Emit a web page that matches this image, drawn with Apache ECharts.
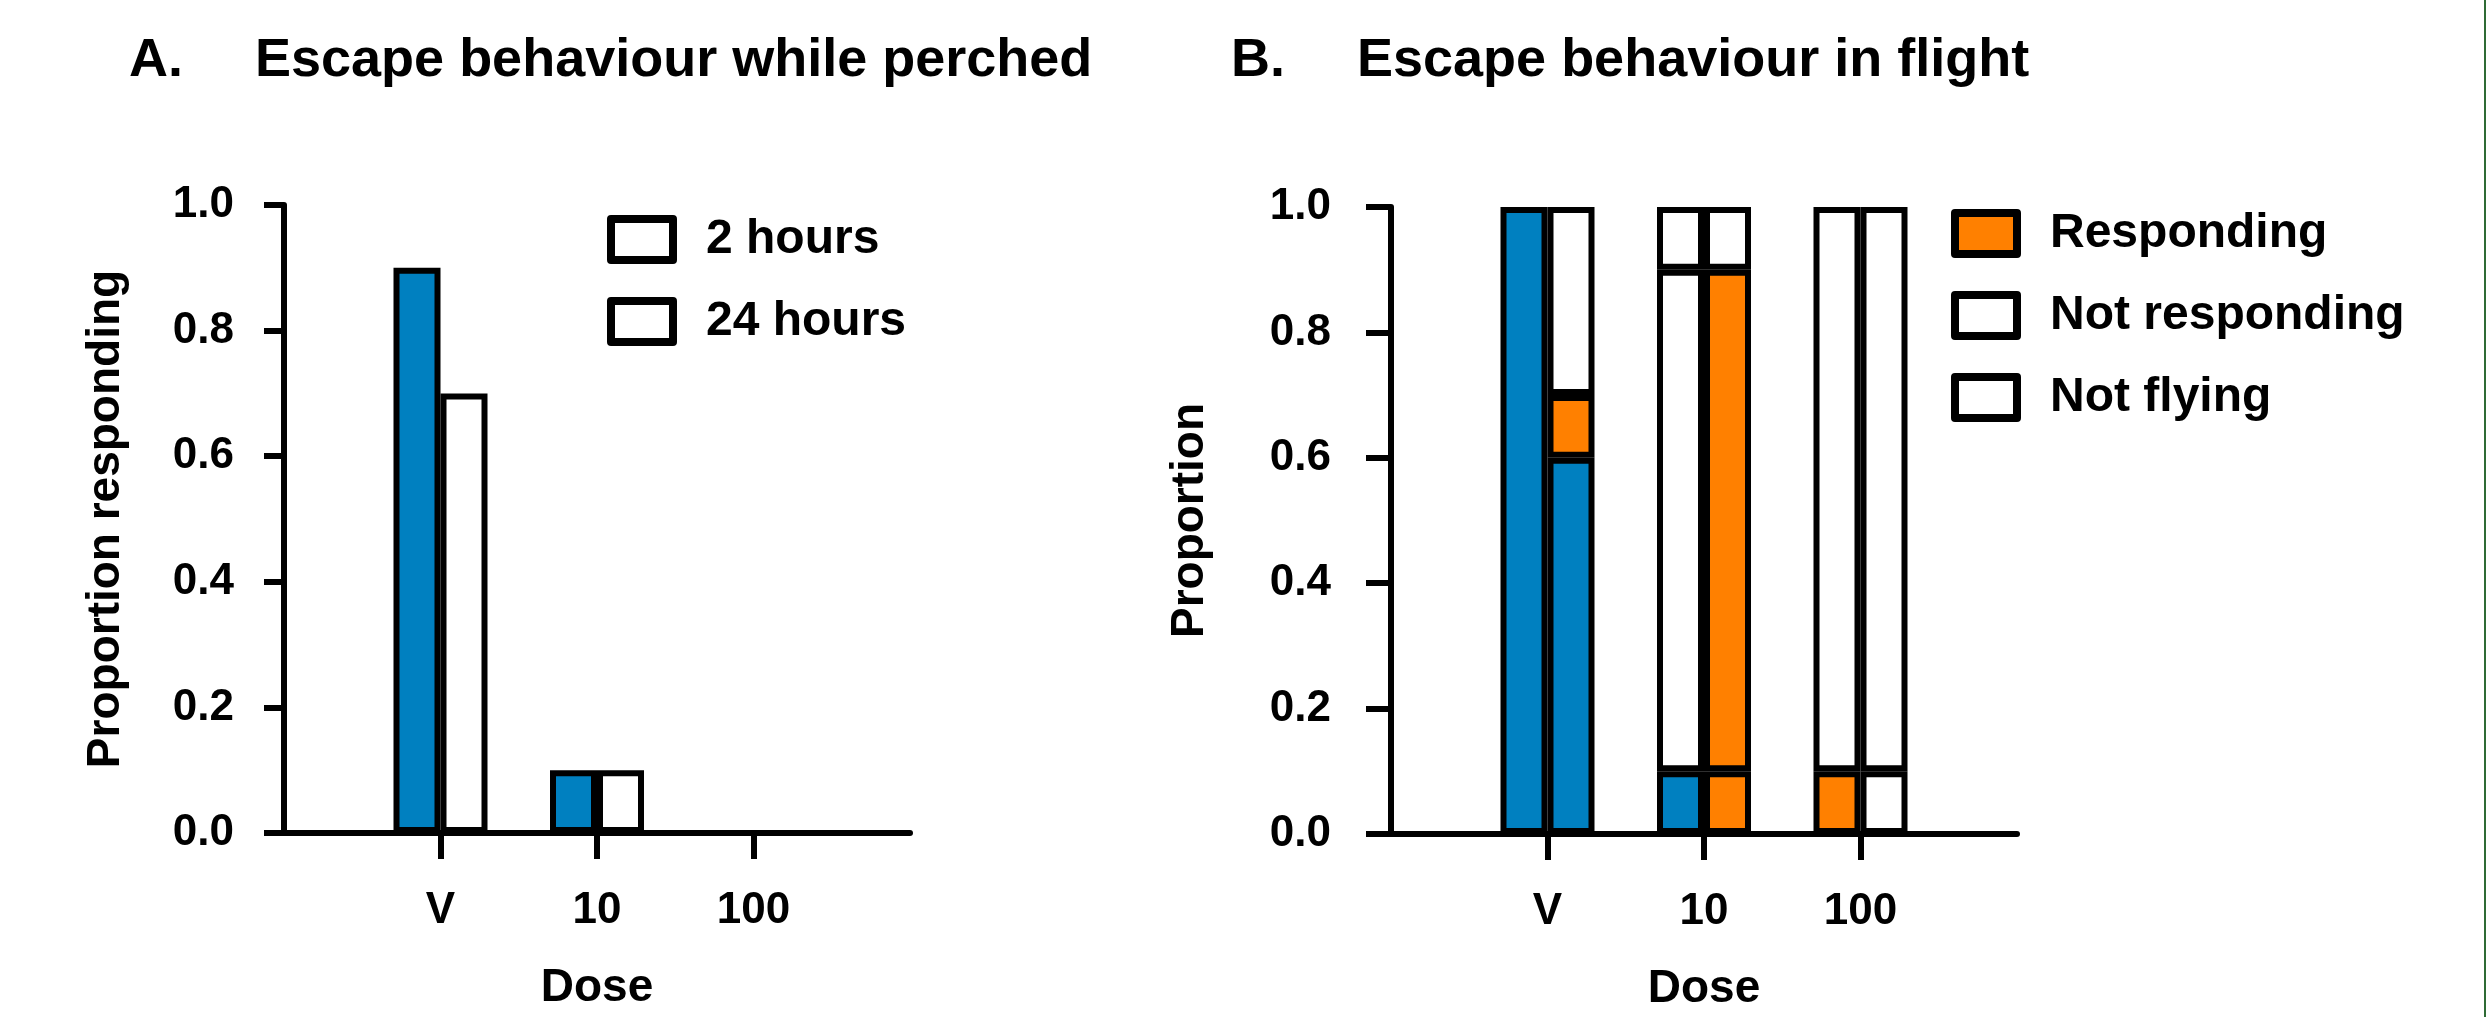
<!DOCTYPE html>
<html>
<head>
<meta charset="utf-8">
<script src="https://cdn.jsdelivr.net/npm/echarts@6/dist/echarts.min.js"></script>
<style>
html,body{margin:0;padding:0;background:#fff;}
#chart{width:2486px;height:1017px;}
</style>
</head>
<body>
<div id="chart"></div>
<script>
// ---- data ----
const categories = ['', 'V', '10', '100', ''];
const yTickValues = [0, 0.2, 0.4, 0.6, 0.8, 1.0];

// Panel A: proportion responding while perched
const hours2  = ['-', 0.9, 0.1, 0, '-'];
const hours24 = ['-', 0.7, 0.1, 0, '-'];

// Panel B: escape behaviour in flight (segments of left and right bars)
const leftBottom  = ['-', 1.0, 0.1, 0.1, '-'];
const leftMiddle  = ['-', '-', 0.8, 0.9, '-'];
const leftTop     = ['-', '-', 0.1, '-', '-'];
const rightBottom = ['-', 0.6, 0.1, 0.1, '-'];
const rightMiddle = ['-', 0.1, 0.8, 0.9, '-'];
const rightTop    = ['-', 0.3, 0.1, '-', '-'];

// ---- styles ----
const BLUE = '#0080C0', ORANGE = '#FF8000', WHITE = '#FFFFFF';
const hours2Fill      = [BLUE, BLUE, BLUE, BLUE, BLUE];
const hours24Fill     = [WHITE, WHITE, WHITE, WHITE, WHITE];
const leftBottomFill  = [WHITE, BLUE, BLUE, ORANGE, WHITE];
const leftMiddleFill  = [WHITE, WHITE, WHITE, WHITE, WHITE];
const leftTopFill     = [WHITE, WHITE, WHITE, WHITE, WHITE];
const rightBottomFill = [WHITE, BLUE, ORANGE, WHITE, WHITE];
const rightMiddleFill = [WHITE, ORANGE, ORANGE, WHITE, WHITE];
const rightTopFill    = [WHITE, WHITE, WHITE, WHITE, WHITE];

const FONT = "'Liberation Sans', Arial, sans-serif";
const BW = 6;
const BAR_W = 47;

function items(vals, fills) {
  return vals.map((v, i) => ({ value: v, itemStyle: { color: fills[i] } }));
}

function xAxisFor(gridIndex) {
  return {
    gridIndex: gridIndex,
    type: 'category',
    data: categories,
    boundaryGap: false,
    name: 'Dose',
    nameLocation: 'middle',
    nameGap: 132,
    nameTextStyle: { fontFamily: FONT, fontWeight: 'bold', fontSize: 46, color: '#000' },
    axisLine: { show: true, lineStyle: { color: '#000', width: BW } },
    axisTick: { show: true, length: 26, lineStyle: { color: '#000', width: BW },
                interval: function (i, v) { return v !== ''; } },
    axisLabel: { interval: 0, margin: 56, fontFamily: FONT, fontWeight: 'bold', fontSize: 44, color: '#000' },
    splitLine: { show: false }
  };
}
function yAxisFor(gridIndex, name, nameGap, margin, tickLen) {
  return {
    gridIndex: gridIndex,
    type: 'value',
    min: yTickValues[0],
    max: yTickValues[yTickValues.length - 1],
    interval: 0.2,
    name: name,
    nameLocation: 'middle',
    nameGap: nameGap,
    nameTextStyle: { fontFamily: FONT, fontWeight: 'bold', fontSize: 46, color: '#000' },
    axisLine: { show: true, lineStyle: { color: '#000', width: BW } },
    axisTick: { show: true, length: tickLen, lineStyle: { color: '#000', width: BW } },
    axisLabel: { margin: margin, fontFamily: FONT, fontWeight: 'bold', fontSize: 44, color: '#000',
                 formatter: function (v) { return v.toFixed(1); } },
    splitLine: { show: false }
  };
}
function barSeries(name, vals, fills, seriesColor, xi, stack) {
  const s = {
    name: name,
    type: 'bar',
    xAxisIndex: xi,
    yAxisIndex: xi,
    barWidth: BAR_W,
    barGap: '0%',
    itemStyle: { color: seriesColor, borderColor: '#000', borderWidth: BW },
    emphasis: { disabled: true },
    animation: false,
    data: items(vals, fills)
  };
  if (stack) s.stack = stack;
  return s;
}

function legendFor(names, left, top) {
  return {
    data: names,
    orient: 'vertical', left: left, top: top, padding: 0,
    itemWidth: 62, itemHeight: 41, itemGap: 33,
    icon: 'rect',
    itemStyle: { borderColor: '#000', borderWidth: 8, borderJoin: 'round' },
    formatter: function (n) { return '{t|' + n + '}'; },
    textStyle: {
      fontFamily: FONT, fontWeight: 'bold', fontSize: 48, color: '#000',
      rich: { t: { fontFamily: FONT, fontWeight: 'bold', fontSize: 48, color: '#000', padding: [0, 0, 0, 28] } }
    },
    selectedMode: false
  };
}

const option = {
  backgroundColor: '#fff',
  animation: false,
  grid: [
    { left: 284, top: 205, width: 626, height: 628 },
    { left: 1391, top: 207, width: 626, height: 629 }
  ],
  xAxis: [xAxisFor(0), xAxisFor(1)],
  yAxis: [
    yAxisFor(0, 'Proportion responding', 155, 50, 20),
    yAxisFor(1, 'Proportion', 178, 60, 25)
  ],
  legend: [
    legendFor(['2 hours', '24 hours'], 607, 215),
    legendFor(['Responding', 'Not responding', 'Not flying'], 1951, 209)
  ],
  series: [
    barSeries('2 hours', hours2, hours2Fill, WHITE, 0, null),
    barSeries('24 hours', hours24, hours24Fill, WHITE, 0, null),
    barSeries('Responding', leftBottom, leftBottomFill, ORANGE, 1, 'L'),
    barSeries('Not responding', leftMiddle, leftMiddleFill, WHITE, 1, 'L'),
    barSeries('Not flying', leftTop, leftTopFill, WHITE, 1, 'L'),
    barSeries('Responding', rightBottom, rightBottomFill, ORANGE, 1, 'R'),
    barSeries('Not responding', rightMiddle, rightMiddleFill, WHITE, 1, 'R'),
    barSeries('Not flying', rightTop, rightTopFill, WHITE, 1, 'R')
  ],
  graphic: [
    { type: 'text', x: 129, y: 61, style: { text: 'A.', font: "bold 54px " + FONT, fill: '#000', verticalAlign: 'middle' } },
    { type: 'text', x: 255, y: 61, style: { text: 'Escape behaviour while perched', font: "bold 54px " + FONT, fill: '#000', verticalAlign: 'middle' } },
    { type: 'text', x: 1231, y: 61, style: { text: 'B.', font: "bold 54px " + FONT, fill: '#000', verticalAlign: 'middle' } },
    { type: 'text', x: 1357, y: 61, style: { text: 'Escape behaviour in flight', font: "bold 54px " + FONT, fill: '#000', verticalAlign: 'middle' } },
    { type: 'rect', shape: { x: 2484, y: 0, width: 2, height: 1017 }, style: { fill: '#2f6b35' } }
  ]
};

const chart = echarts.init(document.getElementById('chart'), null, { renderer: 'canvas' });
chart.setOption(option);
</script>
</body>
</html>
